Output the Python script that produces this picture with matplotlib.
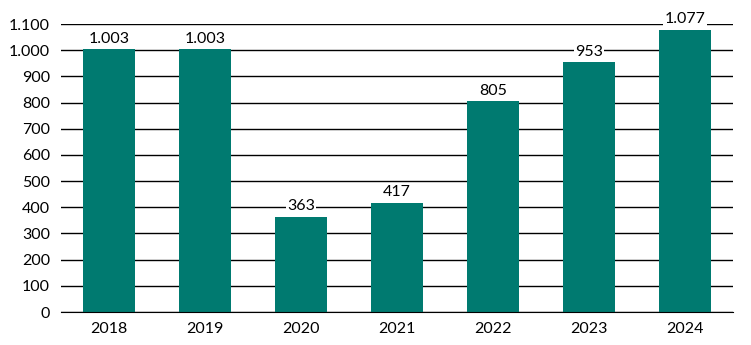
import matplotlib.pyplot as plt
import numpy as np

years = ['2018', '2019', '2020', '2021', '2022', '2023', '2024']
values = [1003, 1003, 363, 417, 805, 953, 1077]
labels = ['1.003', '1.003', '363', '417', '805', '953', '1.077']
yticks = list(range(0, 1101, 100))
ytick_labels = ['0', '100', '200', '300', '400', '500', '600', '700', '800', '900', '1.000', '1.100']

plt.rcParams['font.family'] = ['Lato', 'DejaVu Sans']

fig = plt.figure(figsize=(7.51, 3.45), dpi=100)
ax = fig.add_axes([61 / 751, 1 - 312 / 345, 672 / 751, 288 / 345])

x = np.arange(len(years))
ax.bar(x, values, width=0.55, color='#007A70', zorder=2)
for xi, v, lab in zip(x, values, labels):
    ax.text(xi, v + 14, lab, ha='center', va='bottom', fontsize=11.5, color='black',
            bbox=dict(facecolor='white', edgecolor='none', pad=1), zorder=3)

ax.set_xlim(-0.5, len(years) - 0.5)
ax.set_ylim(0, 1100)
ax.set_yticks(yticks)
ax.set_yticklabels(ytick_labels)
ax.set_xticks(x)
ax.set_xticklabels(years)
ax.yaxis.grid(True, color='black', linewidth=1, zorder=0)
ax.set_axisbelow(True)
for s in ['left', 'right', 'top']:
    ax.spines[s].set_visible(False)
ax.spines['bottom'].set_color('black')
ax.tick_params(length=0, labelsize=11.5, pad=7)
ax.tick_params(axis='y', pad=8)

fig.savefig('out.png', dpi=100)
